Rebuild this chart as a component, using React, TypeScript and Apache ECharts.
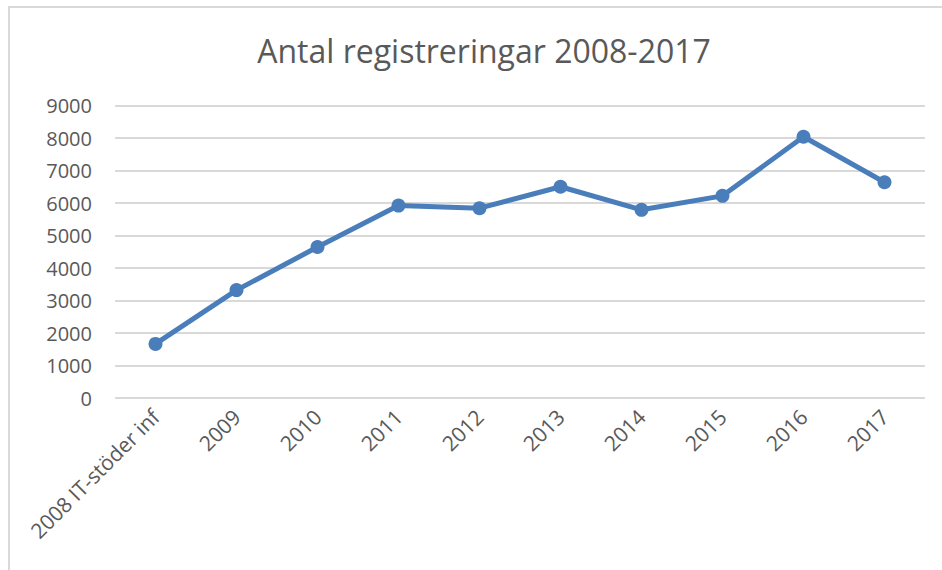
import React, { useEffect, useRef } from "react";
import * as echarts from "echarts";

const categories = ["2008 IT-stöder inf", "2009", "2010", "2011", "2012", "2013", "2014", "2015", "2016", "2017"];
const values = [1665, 3320, 4645, 5920, 5840, 6500, 5790, 6220, 8040, 6640];
const titleText = "Antal registreringar 2008-2017";

export default function App() {
  const ref = useRef<HTMLDivElement>(null);
  useEffect(() => {
    if (!ref.current) return;
    const chart = echarts.init(ref.current, undefined, { renderer: "svg" });
    chart.setOption({
      animation: false,
      backgroundColor: "#ffffff",
      title: {
        text: titleText,
        left: 479,
        textAlign: "center",
        top: 29,
        textStyle: { fontFamily: "Open Sans", fontSize: 32, fontWeight: "normal", color: "#595959" },
      },
      graphic: [
        { type: "line", shape: { x1: 8, y1: 7, x2: 942, y2: 7 }, style: { stroke: "#d9d9d9", lineWidth: 2 } },
        { type: "line", shape: { x1: 9, y1: 6, x2: 9, y2: 570 }, style: { stroke: "#d9d9d9", lineWidth: 2 } },
      ],
      grid: { left: 115, right: 17, top: 105.5, bottom: 172, containLabel: false },
      xAxis: {
        type: "category",
        data: categories,
        boundaryGap: true,
        axisLine: { show: false },
        axisTick: { show: false },
        axisLabel: {
          rotate: 45,
          margin: 15,
          interval: 0,
          fontFamily: "Open Sans",
          fontSize: 21,
          color: "#595959",
        },
      },
      yAxis: {
        type: "value",
        min: 0,
        max: 9000,
        interval: 1000,
        axisLine: { show: false },
        axisTick: { show: false },
        splitLine: { lineStyle: { color: "#d9d9d9", width: 2 } },
        axisLabel: {
          margin: 23,
          fontFamily: "Open Sans",
          fontSize: 20,
          color: "#595959",
          formatter: (v: number) => String(v),
        },
      },
      series: [
        {
          type: "line",
          data: values,
          symbol: "circle",
          symbolSize: 14,
          lineStyle: { color: "#4a7ebb", width: 5 },
          itemStyle: { color: "#4a7ebb" },
        },
      ],
    });
    return () => chart.dispose();
  }, []);
  return <div ref={ref} style={{ position: "fixed", left: 0, top: 0, width: 942, height: 570 }} />;
}
